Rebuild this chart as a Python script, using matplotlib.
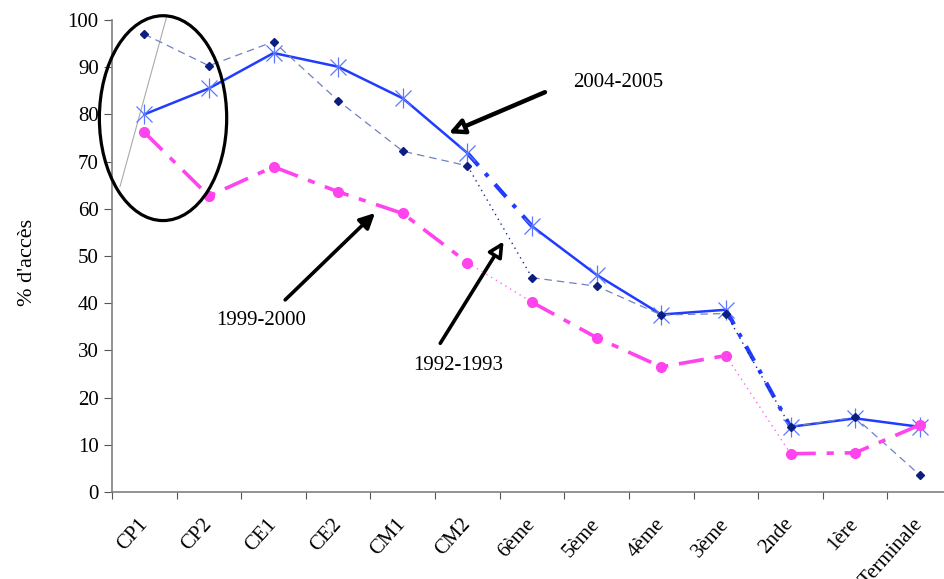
import numpy as np
import matplotlib.pyplot as plt
from matplotlib.patches import Ellipse

plt.rcParams['font.family'] = ['Liberation Serif', 'DejaVu Serif']

niveaux = ['CP1', 'CP2', 'CE1', 'CE2', 'CM1', 'CM2', '6ème', '5ème', '4ème',
           '3ème', '2nde', '1ère', 'Terminale']

acces_2004 = [80.0, 85.5, 93.0, 90.1, 83.4, 71.8, 56.3, 46.0, 37.6, 38.6, 13.8, 15.6, 13.8]
acces_1992 = [97.0, 90.3, 95.4, 82.9, 72.2, 69.1, 45.4, 43.6, 37.5, 37.8, 13.8, 15.8, 3.6]
acces_1999 = [76.2, 62.7, 68.9, 63.6, 59.0, 48.6, 40.2, 32.7, 26.5, 28.9, 8.1, 8.3, 14.2]

# primaire, collège, lycée drawn with the main style, transitions with the link style
blocs = [(0, 6), (6, 10), (10, 13)]
liens = [(5, 7), (9, 11)]

fig = plt.figure(figsize=(9.45, 5.79), dpi=100)
ax = fig.add_axes([0.1185, 0.1503, 0.889, 0.8152])
x = np.arange(len(niveaux))


def trace(y, main, link, marks):
    y = np.array(y)
    for a, b in blocs:
        ax.plot(x[a:b], y[a:b], **main)
    for a, b in liens:
        ax.plot(x[a:b], y[a:b], **link)
    for m in marks:
        ax.plot(x, y, ls='none', **m)


# 2004-2005
trace(acces_2004,
      dict(color='#1f3cff', lw=1.8, zorder=3),
      dict(color='#1f3cff', lw=3.0, dashes=(4, 2.5, 1, 2.5), zorder=3),
      [dict(marker='x', ms=12, mew=0.9, mec='#5b78ff', zorder=4),
       dict(marker='|', ms=14, mew=0.9, mec='#5b78ff', zorder=4)])

# 1992-1993
trace(acces_1992,
      dict(color='#6f80c4', lw=0.9, dashes=(6, 4), zorder=5),
      dict(color='#1a2a90', lw=1.0, dashes=(1, 3), zorder=5),
      [dict(marker='D', ms=3.6, mfc='#0c1f80', mec='#0c1f80', zorder=6)])

# 1999-2000
trace(acces_1999,
      dict(color='#ff44ee', lw=2.6, dashes=(7, 3, 2, 3), zorder=7),
      dict(color='#ff66ee', lw=1.0, dashes=(1, 3), zorder=7),
      [dict(marker='o', ms=7, mfc='#ff44ee', mec='#ff44ee', zorder=8)])

ax.set_xlim(-0.5, len(niveaux) - 0.5)
ax.set_ylim(0, 100)
ax.set_yticks(np.arange(0, 101, 10))
ax.set_xticks(np.arange(-0.5, len(niveaux)), labels=[])
ax.set_xticks(x, labels=niveaux, minor=True)
ax.tick_params(axis='x', which='major', direction='out', length=5, color='#555555')
ax.tick_params(axis='x', which='minor', length=0, pad=21, labelsize=15)
ax.tick_params(axis='y', direction='out', length=6, color='#555555', labelsize=15)
for lab in ax.get_xticklabels(minor=True):
    lab.set_rotation(48)
    lab.set_ha('right')
    lab.set_va('center')
    lab.set_rotation_mode('anchor')
for side in ['top', 'right']:
    ax.spines[side].set_visible(False)
for side in ['left', 'bottom']:
    ax.spines[side].set_color('#808080')
    ax.spines[side].set_linewidth(1.2)

fig.text(28 / 945, 1 - 262 / 579, "% d'accès", rotation=90, ha='center',
         va='center', fontsize=16)

# circled area over CP1-CP2
ax.add_patch(Ellipse((0.29, 79.2), 1.97, 43.4, fill=False, ec='black', lw=2.3,
                     zorder=9, clip_on=False))
ax.plot([-0.376, 0.35], [64.7, 100.9], color='#aaaaaa', lw=0.8, zorder=2,
        clip_on=False)

ax.annotate('', xy=(4.71, 76.0), xytext=(6.20, 84.7),
            arrowprops=dict(arrowstyle='-|>,head_width=0.45,head_length=0.9',
                            lw=3.2, color='black', fc='white', shrinkA=0, shrinkB=0))
ax.text(6.63, 86.7, '2004-2005', fontsize=15, ha='left', va='center')

ax.annotate('', xy=(3.57, 59.1), xytext=(2.18, 40.7),
            arrowprops=dict(arrowstyle='-|>,head_width=0.45,head_length=0.9',
                            lw=2.6, color='black', shrinkA=0, shrinkB=0))
ax.text(1.81, 36.3, '1999-2000', fontsize=15, ha='center', va='center')

ax.annotate('', xy=(5.56, 53.1), xytext=(4.58, 31.5),
            arrowprops=dict(arrowstyle='-|>,head_width=0.45,head_length=0.9',
                            lw=2.6, color='black', fc='white', shrinkA=0, shrinkB=0))
ax.text(4.85, 26.9, '1992-1993', fontsize=15, ha='center', va='center')

fig.savefig('out.png', dpi=100)
